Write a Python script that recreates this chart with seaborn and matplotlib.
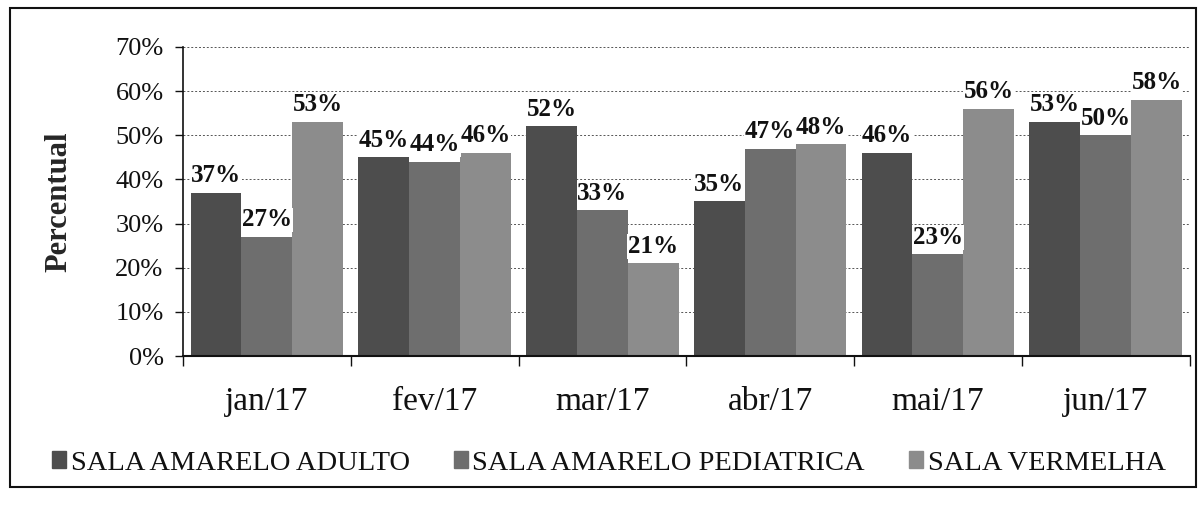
import matplotlib
matplotlib.use("Agg")
import matplotlib.pyplot as plt
import seaborn as sns
import pandas as pd
from matplotlib.patches import Rectangle
from matplotlib.ticker import FuncFormatter, MultipleLocator

# Data
months = ["jan/17", "fev/17", "mar/17", "abr/17", "mai/17", "jun/17"]
series_names = ["SALA AMARELO ADULTO", "SALA AMARELO PEDIATRICA", "SALA VERMELHA"]
adulto = [37, 45, 52, 35, 46, 53]
pediatrica = [27, 44, 33, 47, 23, 50]
vermelha = [53, 46, 21, 48, 56, 58]

df = pd.DataFrame({
    "mes": months * 3,
    "sala": [series_names[0]] * 6 + [series_names[1]] * 6 + [series_names[2]] * 6,
    "pct": adulto + pediatrica + vermelha,
})

sns.set_theme(style="white")
plt.rcParams["font.family"] = ["Liberation Serif", "DejaVu Serif"]

fig = plt.figure(figsize=(12.04, 5.05), dpi=100)
ax = fig.add_axes([0.152, 0.295, 0.836, 0.612])

palette = ["#4d4d4d", "#6e6e6e", "#8c8c8c"]
sns.barplot(data=df, x="mes", y="pct", hue="sala", hue_order=series_names,
            palette=palette, width=0.91, saturation=1, ax=ax,
            edgecolor="none", linewidth=0)

for cont in ax.containers:
    ax.bar_label(cont, labels=[f"{v:.0f}%" for v in cont.datavalues],
                 padding=4, fontsize=18, fontweight="bold", color="#111111",
                 bbox=dict(facecolor="white", edgecolor="none", pad=0.5))

ax.set_ylim(0, 70)
ax.set_xlim(-0.5, 5.5)
ax.yaxis.set_major_locator(MultipleLocator(10))
ax.yaxis.set_major_formatter(FuncFormatter(lambda v, p: f"{v:.0f}%"))
ax.grid(axis="y", color="#555555", linestyle=(0, (2, 2)), linewidth=0.7)
ax.set_axisbelow(True)

ax.set_xlabel("")
ax.set_ylabel("Percentual", fontsize=22, fontweight="bold", labelpad=30)

for side in ["top", "right"]:
    ax.spines[side].set_visible(False)
ax.spines["left"].set_color("#111111")
ax.spines["bottom"].set_color("#111111")
ax.spines["left"].set_linewidth(1.2)
ax.spines["bottom"].set_linewidth(1.5)

ax.tick_params(axis="y", labelsize=19, left=True, length=6, width=1, color="#111111",
               direction="out", pad=8, labelcolor="#111111")
ax.tick_params(axis="x", labelsize=24, bottom=False, pad=16, labelcolor="#111111")
# category boundary ticks on x axis
ax.set_xticks([i - 0.5 for i in range(7)], minor=True)
ax.tick_params(axis="x", which="minor", bottom=True, length=7, width=1, color="#111111",
               direction="out")

ax.legend_.remove()
handles = [Rectangle((0, 0), 1, 1, color=c) for c in palette]
fig.legend(handles, series_names, loc="center left", bbox_to_anchor=(0.022, 0.083),
           ncol=3, frameon=False, fontsize=20.5, handlelength=0.5, handleheight=0.5,
           handletextpad=0.15, columnspacing=1.55, labelcolor="#111111")

# outer frame
fig.add_artist(Rectangle((0.008, 0.035), 0.985, 0.95, transform=fig.transFigure,
                         fill=False, edgecolor="#111111", linewidth=1.5))

fig.savefig("out.png", dpi=100)
